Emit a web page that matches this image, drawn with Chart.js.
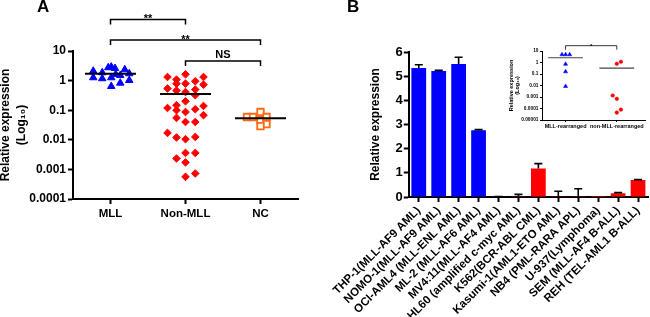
<!DOCTYPE html>
<html>
<head>
<meta charset="utf-8">
<script src="https://cdn.jsdelivr.net/npm/chart.js@4.4.0/dist/chart.umd.min.js"></script>
<style>
  body { margin: 0; background: #fff; }
  #wrap { position: relative; width: 650px; height: 317px; overflow: hidden; background: #fff; }
  canvas { position: absolute; }
  .panel { position: absolute; font: bold 17px 'Liberation Sans', Arial, sans-serif; color: #000; }
</style>
</head>
<body>
<div id="wrap">
  <canvas id="chartA" width="330" height="317" style="left:0;top:0"></canvas>
  <canvas id="chartB" width="320" height="317" style="left:330px;top:0"></canvas>
  <canvas id="chartInset" width="150" height="105" style="left:500px;top:30px"></canvas>
  <div class="panel" style="left:37px;top:-3px">A</div>
  <div class="panel" style="left:347px;top:-3px">B</div>
</div>
<script>
// Panel A: relative expression per group (log scale)
const groupLabels = ["MLL", "Non-MLL", "NC"];
const mllValues = [2.1, 1.26, 1.86, 1.17, 2.75, 2.9, 2.6, 1.26, 0.64, 1.63, 1.5, 0.83, 2.35, 1.72, 1.02];
const mllSpread = [-0.23, -0.23, -0.11, -0.11, -0.03, 0.01, 0.06, 0.01, 0.01, 0.07, 0.13, 0.13, 0.19, 0.25, 0.25];
const nonMllValues = [1.63, 1.32, 1.32, 1.08, 0.95, 0.79, 0.79, 0.73, 0.54, 0.46, 0.41, 0.5, 0.32, 0.2,
  0.119, 0.147, 0.139, 0.1, 0.087, 0.108, 0.055, 0.068, 0.04, 0.04,
  0.0171, 0.012, 0.0105, 0.0125, 0.0036, 0.0036, 0.00234, 0.00172, 0.00056, 0.00073];
const nonMllSpread = [0, -0.24, 0.24, -0.12, 0.13, -0.12, 0, 0.24, -0.24, -0.12, 0, 0.13, 0.13, 0,
  -0.24, -0.12, 0.24, -0.12, 0, 0.13, -0.12, 0.24, 0, 0.13,
  -0.24, -0.12, 0, 0.13, 0, 0.13, -0.12, 0, 0, 0.13];
const ncValues = [0.059, 0.059, 0.087, 0.046, 0.059, 0.034, 0.029];
const ncSpread = [-0.18, -0.1, 0, 0, 0.08, 0.08, 0];
const yTicksA = [0.0001, 0.001, 0.01, 0.1, 1, 10];

// Panel B: cell lines
const cellLines = ["THP-1(MLL-AF9 AML)", "NOMO-1(MLL-AF9 AML)", "OCI-AML4 (MLL-ENL AML)", "ML-2 (MLL-AF6 AML)",
  "MV4:11(MLL-AF4 AML)", "HL60 (amplified c-myc AML)", "K562(BCR-ABL CML)", "Kasumi-1(AML1-ETO AML)",
  "NB4 (PML-RARA APL)", "U-937(Lymphoma)", "SEM (MLL-AF4 B-ALL)", "REH (TEL-AML1 B-ALL)"];
const expression = [5.34, 5.21, 5.5, 2.76, 0.01, 0.03, 1.18, 0.01, 0.01, 0.005, 0.16, 0.7];
const expressionSem = [0.13, 0.03, 0.28, 0.03, 0.01, 0.08, 0.2, 0.23, 0.33, 0, 0.02, 0.02];
const barColors = ["#0000ff", "#0000ff", "#0000ff", "#0000ff", "#0000ff", "#ff0000",
  "#ff0000", "#ff0000", "#ff0000", "#ff0000", "#ff0000", "#ff0000"];

// Inset
const insetGroups = ["MLL-rearranged", "non-MLL-rearranged"];
const insetMll = [4.9, 4.9, 4.9, 0.72, 0.16, 0.0085];
const insetMllSpread = [-0.07, 0, 0.08, 0, 0, 0];
const insetNonMll = [0.77, 1.15, 0.00135, 0.00069, 0.000044, 0.00008];
const insetNonMllSpread = [0, 0.08, -0.08, 0, 0, 0.08];
const yTicksInset = [0.00001, 0.0001, 0.001, 0.01, 0.1, 1, 10];

Chart.defaults.font.family = "'Liberation Sans', Arial, sans-serif";
Chart.defaults.font.weight = "bold";
Chart.defaults.color = "#000";

function toPoints(values, spread, group) {
  return values.map((v, i) => ({ x: group + spread[i], y: v }));
}

function meanLine(values, group, half, color, width) {
  const mean = values.reduce((s, v) => s + v, 0) / values.length;
  return {
    data: [{ x: group - half, y: mean }, { x: group + half, y: mean }],
    showLine: true,
    pointRadius: 0,
    borderColor: color,
    borderWidth: width,
  };
}

function logLabel(v) {
  const e = Math.round(Math.log10(v));
  return e >= 0 ? String(Math.round(v)) : v.toFixed(-e);
}

function axisStyle(width, tickLen) {
  return {
    grid: { display: true, drawOnChartArea: false, drawTicks: true, tickLength: tickLen, tickWidth: width, tickColor: "#000", offset: false },
    border: { display: true, color: "#000", width: width },
  };
}

const bracketPlugin = {
  id: "brackets",
  afterDraw(chart, args, opts) {
    const { ctx } = chart;
    const x = chart.scales.x;
    ctx.save();
    ctx.strokeStyle = "#000";
    ctx.fillStyle = "#000";
    ctx.lineWidth = opts.lineWidth;
    ctx.textAlign = "center";
    ctx.textBaseline = "alphabetic";
    opts.items.forEach((b) => {
      const x1 = x.getPixelForValue(b.from);
      const x2 = x.getPixelForValue(b.to);
      ctx.beginPath();
      ctx.moveTo(x1, b.y + opts.drop);
      ctx.lineTo(x1, b.y);
      ctx.lineTo(x2, b.y);
      ctx.lineTo(x2, b.y + opts.drop);
      ctx.stroke();
      ctx.font = "bold " + b.size + "px 'Liberation Sans', Arial, sans-serif";
      ctx.fillText(b.label, (x1 + x2) / 2, b.y + b.shift);
    });
    ctx.restore();
  },
};

const errorBarPlugin = {
  id: "errorBars",
  afterDatasetsDraw(chart) {
    const { ctx } = chart;
    const y = chart.scales.y;
    const meta = chart.getDatasetMeta(0);
    ctx.save();
    ctx.strokeStyle = "#000";
    ctx.lineWidth = 1.6;
    meta.data.forEach((bar, i) => {
      const err = expressionSem[i];
      if (!err) return;
      const top = y.getPixelForValue(expression[i] + err);
      ctx.beginPath();
      ctx.moveTo(bar.x, bar.y);
      ctx.lineTo(bar.x, top);
      ctx.moveTo(bar.x - 4, top);
      ctx.lineTo(bar.x + 4, top);
      ctx.stroke();
    });
    ctx.restore();
  },
};

// Panel A
new Chart(document.getElementById("chartA"), {
  type: "scatter",
  data: {
    datasets: [
      meanLine(mllValues, 1, 0.34, "#000", 2),
      meanLine(nonMllValues, 2, 0.34, "#000", 2),
      meanLine(ncValues, 3, 0.34, "#000", 2),
      { data: toPoints(mllValues, mllSpread, 1), pointStyle: "triangle", pointRadius: 4.3, backgroundColor: "#0000ff", borderColor: "#0000ff", borderWidth: 1 },
      { data: toPoints(nonMllValues, nonMllSpread, 2), pointStyle: "rectRot", pointRadius: 3.8, backgroundColor: "#ff0000", borderColor: "#ff0000", borderWidth: 1 },
      { data: toPoints(ncValues, ncSpread, 3), pointStyle: "rect", pointRadius: 4.6, backgroundColor: "#ffffff", borderColor: "#ff6a13", borderWidth: 1.8 },
    ],
  },
  options: {
    responsive: false,
    animation: false,
    layout: { padding: { left: 0, top: 51, right: 32, bottom: 0 } },
    plugins: {
      legend: { display: false },
      tooltip: { enabled: false },
      brackets: {
        lineWidth: 1.5,
        drop: 5,
        items: [
          { from: 1, to: 2, y: 19.5, label: "**", size: 11, shift: 2.5 },
          { from: 1, to: 3, y: 40, label: "**", size: 11, shift: 3 },
          { from: 2, to: 3, y: 61, label: "NS", size: 11, shift: -3.5 },
        ],
      },
    },
    scales: {
      x: {
        type: "linear",
        min: 0.5,
        max: 3.5,
        afterBuildTicks: (s) => { s.ticks = groupLabels.map((_, i) => ({ value: i + 1 })); },
        afterFit: (s) => { s.height = 118; },
        ticks: { callback: (v) => groupLabels[Math.round(v) - 1], font: { size: 11.5, weight: "bold" }, padding: 3, maxRotation: 0, autoSkip: false },
        ...axisStyle(2, 5),
      },
      y: {
        type: "logarithmic",
        min: 0.0001,
        max: 10,
        afterBuildTicks: (s) => { s.ticks = yTicksA.map((v) => ({ value: v })); },
        afterFit: (s) => { s.width = 73; },
        ticks: { callback: (v) => logLabel(v), font: { size: 12, weight: "bold" }, padding: 2, autoSkip: false },
        title: { display: true, text: ["Relative expression", "(Log\u2081\u2080)"], font: { size: 12, weight: "bold", lineHeight: 1.33 }, padding: { top: -2, bottom: 0 } },
        ...axisStyle(2, 5),
      },
    },
  },
  plugins: [bracketPlugin],
});

// Panel B
new Chart(document.getElementById("chartB"), {
  type: "bar",
  data: {
    labels: cellLines,
    datasets: [{ data: expression, backgroundColor: barColors, borderWidth: 0, barPercentage: 0.74, categoryPercentage: 1 }],
  },
  options: {
    responsive: false,
    animation: false,
    layout: { padding: { left: 0, top: 52, right: 2, bottom: 0 } },
    plugins: { legend: { display: false }, tooltip: { enabled: false } },
    scales: {
      x: {
        afterFit: (s) => { s.height = 120; },
        ticks: { font: { size: 11.5, weight: "bold" }, minRotation: 45, maxRotation: 45, autoSkip: false, padding: 2 },
        ...axisStyle(2, 5),
      },
      y: {
        min: 0,
        max: 6,
        afterFit: (s) => { s.width = 77; },
        ticks: { stepSize: 1, font: { size: 13, weight: "bold" }, padding: 1 },
        title: { display: true, text: "Relative expression", font: { size: 12, weight: "bold" }, padding: { top: 37, bottom: 0 } },
        ...axisStyle(2, 5),
      },
    },
  },
  plugins: [errorBarPlugin],
});

// Inset
new Chart(document.getElementById("chartInset"), {
  type: "scatter",
  data: {
    datasets: [
      meanLine(insetMll, 1, 0.34, "#444", 1.2),
      meanLine(insetNonMll, 2, 0.34, "#444", 1.2),
      { data: toPoints(insetMll, insetMllSpread, 1), pointStyle: "triangle", pointRadius: 2.4, backgroundColor: "#0000ff", borderColor: "#0000ff", borderWidth: 0.5 },
      { data: toPoints(insetNonMll, insetNonMllSpread, 2), pointStyle: "circle", pointRadius: 1.8, backgroundColor: "#ff0000", borderColor: "#ff0000", borderWidth: 0.5 },
    ],
  },
  options: {
    responsive: false,
    animation: false,
    layout: { padding: { left: 0, top: 21, right: 3, bottom: 0 } },
    plugins: {
      legend: { display: false },
      tooltip: { enabled: false },
      brackets: {
        lineWidth: 0.8,
        drop: 4,
        items: [{ from: 1, to: 2, y: 15.7, label: "*", size: 6, shift: 2 }],
      },
    },
    scales: {
      x: {
        type: "linear",
        min: 0.54,
        max: 2.56,
        afterBuildTicks: (s) => { s.ticks = insetGroups.map((_, i) => ({ value: i + 1 })); },
        afterFit: (s) => { s.height = 15; },
        ticks: { callback: (v) => insetGroups[Math.round(v) - 1], font: { size: 5.5, weight: "bold" }, padding: 1, maxRotation: 0, autoSkip: false },
        ...axisStyle(1, 2),
      },
      y: {
        type: "logarithmic",
        min: 0.00001,
        max: 10,
        afterBuildTicks: (s) => { s.ticks = yTicksInset.map((v) => ({ value: v })); },
        afterFit: (s) => { s.width = 42; },
        ticks: { callback: (v) => logLabel(v), font: { size: 4.8, weight: "bold" }, padding: 1.5, autoSkip: false },
        title: { display: true, text: ["Relative expression", "(Log\u2081\u2080)"], font: { size: 5.5, weight: "bold", lineHeight: 1.1 }, padding: { top: 8, bottom: 0 } },
        ...axisStyle(1, 2),
      },
    },
  },
  plugins: [bracketPlugin],
});
</script>
</body>
</html>
